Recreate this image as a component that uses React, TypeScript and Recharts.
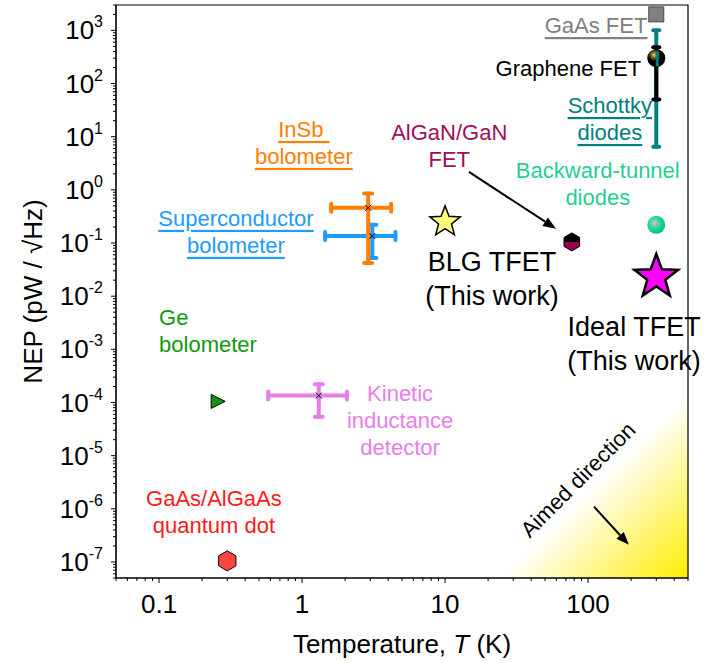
import React from "react";
import {
  ScatterChart,
  Scatter,
  XAxis,
  YAxis,
  ErrorBar,
  ReferenceArea,
  ReferenceLine,
  ReferenceDot,
} from "recharts";

const FONT = "'Liberation Sans', Arial, sans-serif";

// axis setup
const T_DOMAIN = [0.05, 500];
const NEP_DOMAIN = [5e-8, 3000];
const T_DECADES = [0.01, 0.1, 1, 10, 100];
const NEP_DECADES = [1e-8, 1e-7, 1e-6, 1e-5, 1e-4, 1e-3, 1e-2, 1e-1, 1, 10, 100, 1000];
const MINOR_STEPS = [1, 2, 3, 4, 5, 6, 7, 8, 9];

const logTicks = (decades: number[], [lo, hi]: number[]) =>
  decades
    .flatMap((d) => MINOR_STEPS.map((m) => +(m * d).toPrecision(6)))
    .filter((v) => v >= lo * 0.999 && v <= hi * 1.001);

const T_TICKS = logTicks(T_DECADES, T_DOMAIN);
const NEP_TICKS = logTicks(NEP_DECADES, NEP_DOMAIN);

// devices: temperature (K), NEP (pW/sqrt(Hz)), ranges where the paper shows bars
const gaasFet = [{ t: 300, nep: 2000 }];
const schottky = [{ t: 300, nep: 80, nepRange: [6.5, 1000] }];
const grapheneFet = [{ t: 300, nep: 300, nepRange: [50, 480] }];
const backwardTunnel = [{ t: 300, nep: 0.22 }];
const idealTfet = [{ t: 300, nep: 0.023 }];
const alganFet = [{ t: 77, nep: 0.105 }];
const blgTfet = [{ t: 10, nep: 0.25 }];
const superconductor = [{ t: 3.1, nep: 0.135, tRange: [1.45, 4.5], nepRange: [0.052, 0.22] }];
const insb = [{ t: 2.9, nep: 0.46, tRange: [1.6, 4.2], nepRange: [0.042, 0.85] }];
const kinetic = [{ t: 1.31, nep: 1.35e-4, tRange: [0.58, 2.06], nepRange: [5.4e-5, 2.2e-4] }];
const geBolometer = [{ t: 0.255, nep: 1.05e-4 }];
const quantumDot = [{ t: 0.3, nep: 1.05e-7 }];

// annotations (data coordinates)
const notes = [
  { lines: ["GaAs FET"], color: "#808080", t: 260, nep: 1260, anchor: "end", underline: true },
  { lines: ["Graphene FET"], color: "#000", t: 235, nep: 196, anchor: "end" },
  { lines: ["Schottky", "diodes"], color: "#008080", t: 142, nep: 39.5, anchor: "middle", underline: true },
  { lines: ["InSb\u00a0", "bolometer"], color: "#ff7f00", t: 1.03, nep: 14, anchor: "middle", underline: true },
  { lines: ["AlGaN/GaN", "FET"], color: "#a0105a", t: 10.7, nep: 12.3, anchor: "middle" },
  { lines: ["Backward-tunnel", "diodes"], color: "#1fd18f", t: 117, nep: 2.37, anchor: "middle" },
  { lines: ["Superconductor", "bolometer"], color: "#1e9bff", t: 0.345, nep: 0.297, anchor: "middle", underline: true },
  { lines: ["Ge", "bolometer"], color: "#119911", t: 0.1, nep: 0.0041, anchor: "start" },
  { lines: ["Kinetic", "inductance", "detector"], color: "#e77ee8", t: 4.85, nep: 1.53e-4, anchor: "middle" },
  { lines: ["GaAs/AlGaAs", "quantum dot"], color: "#ff1a1a", t: 0.242, nep: 1.62e-6, anchor: "middle" },
  { lines: ["BLG TFET", "(This work)"], color: "#000", t: 21.3, nep: 0.0443, anchor: "middle", big: true },
  { lines: ["Ideal TFET", "(This work)"], color: "#000", t: 210, nep: 0.00266, anchor: "middle", big: true },
];

const starPath = (cx: number, cy: number, R: number, r: number) => {
  const pts: string[] = [];
  for (let i = 0; i < 10; i++) {
    const a = -Math.PI / 2 + (i * Math.PI) / 5;
    const rad = i % 2 === 0 ? R : r;
    pts.push(`${cx + rad * Math.cos(a)},${cy + rad * Math.sin(a)}`);
  }
  return pts.join(" ");
};

const hexPoints = (cx: number, cy: number, r: number) =>
  [0, 1, 2, 3, 4, 5]
    .map((i) => {
      const a = -Math.PI / 2 + (i * Math.PI) / 3;
      return `${cx + r * Math.cos(a)},${cy + r * Math.sin(a)}`;
    })
    .join(" ");

const isMajor = (v: number) => {
  const e = Math.log10(v);
  return Math.abs(e - Math.round(e)) < 1e-6;
};

function XTick(props: any) {
  const { x, y, payload } = props;
  const major = isMajor(payload.value);
  return (
    <g>
      <line x1={x} x2={x} y1={y} y2={y + (major ? 5 : 3)} stroke="#000" />
      {major && (
        <text x={x} y={y + 35} textAnchor="middle" fontFamily={FONT} fontSize={26} fill="#000">
          {String(payload.value)}
        </text>
      )}
    </g>
  );
}

function YTick(props: any) {
  const { x, y, payload } = props;
  const major = isMajor(payload.value);
  const exp = Math.round(Math.log10(payload.value));
  return (
    <g>
      <line x1={x - (major ? 5 : 3)} x2={x} y1={y} y2={y} stroke="#000" />
      {major && (
        <text x={x - 13} y={y + 9} textAnchor="end" fontFamily={FONT} fontSize={26} fill="#000">
          10
          <tspan dy={-12} fontSize={16}>
            {exp}
          </tspan>
        </text>
      )}
    </g>
  );
}

function Note({ cx, cy, note }: any) {
  const size = note.big ? 27 : 22;
  const gap = note.big ? 34 : 27;
  return (
    <text
      x={cx}
      y={cy}
      fill={note.color}
      fontFamily={FONT}
      fontSize={size}
      textAnchor={note.anchor}
      dominantBaseline="central"
      style={note.underline ? { textDecoration: "underline" } : undefined}
    >
      {note.lines.map((l: string, i: number) => (
        <tspan key={i} x={cx} dy={i === 0 ? 0 : gap}>
          {l}
        </tspan>
      ))}
    </text>
  );
}

function Arrow({ x1, y1, x2, y2, width = 2 }: any) {
  const a = Math.atan2(y2 - y1, x2 - x1);
  const L = 13;
  const W = 5;
  const bx = x2 - L * Math.cos(a);
  const by = y2 - L * Math.sin(a);
  const px = -Math.sin(a) * W;
  const py = Math.cos(a) * W;
  return (
    <g>
      <line x1={x1} y1={y1} x2={bx} y2={by} stroke="#000" strokeWidth={width} />
      <polygon points={`${x2},${y2} ${bx + px},${by + py} ${bx - px},${by - py}`} fill="#000" />
    </g>
  );
}

const cross = (cx: number, cy: number) => (
  <g stroke="#000" strokeWidth={1}>
    <line x1={cx - 3} y1={cy - 3} x2={cx + 3} y2={cy + 3} />
    <line x1={cx - 3} y1={cy + 3} x2={cx + 3} y2={cy - 3} />
  </g>
);

const tErr = (d: any) => [d.t - d.tRange[0], d.tRange[1] - d.t];
const nepErr = (d: any) => [d.nep - d.nepRange[0], d.nepRange[1] - d.nep];

export default function App() {
  return (
    <div style={{ position: "absolute", left: 0, top: 0, background: "#fff" }}>
      <ScatterChart width={704} height={663} margin={{ top: 5, right: 16, bottom: 0, left: 0 }}>
        <defs>
          <linearGradient id="aimGrad" x1="0.5" y1="0.5" x2="1" y2="1">
            <stop offset="0" stopColor="#ffffff" />
            <stop offset="1" stopColor="#ffec00" />
          </linearGradient>
          <radialGradient id="grapheneBall" cx="0.38" cy="0.32" r="0.6">
            <stop offset="0" stopColor="#e6d58a" />
            <stop offset="0.3" stopColor="#6a5a20" />
            <stop offset="0.6" stopColor="#000" />
          </radialGradient>
          <radialGradient id="tunnelBall" cx="0.4" cy="0.4" r="0.6">
            <stop offset="0" stopColor="#eab8c6" />
            <stop offset="0.45" stopColor="#34d89a" />
            <stop offset="1" stopColor="#00c07c" />
          </radialGradient>
        </defs>
        <XAxis
          dataKey="t"
          type="number"
          scale="log"
          domain={T_DOMAIN}
          allowDataOverflow
          ticks={T_TICKS}
          interval={0}
          tickSize={0}
          tickMargin={0}
          tickLine={false}
          tick={<XTick />}
          height={85}
          stroke="#000"
          label={{
            content: (p: any) => {
              const vb = p.viewBox;
              return (
                <text x={vb.x + vb.width / 2} y={vb.y + 75} textAnchor="middle" fontFamily={FONT} fontSize={26} fill="#000">
                  Temperature, <tspan fontStyle="italic">T</tspan> (K)
                </text>
              );
            },
          }}
        />
        <YAxis
          dataKey="nep"
          type="number"
          scale="log"
          domain={NEP_DOMAIN}
          allowDataOverflow
          ticks={NEP_TICKS}
          interval={0}
          tickSize={0}
          tickMargin={0}
          tickLine={false}
          tick={<YTick />}
          width={116}
          stroke="#000"
          label={{
            content: (p: any) => {
              const vb = p.viewBox;
              const cy = vb.y + vb.height / 2;
              return (
                <text
                  x={33}
                  y={cy}
                  transform={`rotate(-90 33 ${cy})`}
                  textAnchor="middle"
                  dominantBaseline="central"
                  fontFamily={FONT}
                  fontSize={26}
                  fill="#000"
                >
                  NEP (pW / √Hz)
                </text>
              );
            },
          }}
        />

        <ReferenceArea
          x1={24}
          x2={500}
          y1={5e-8}
          y2={1.53e-4}
          ifOverflow="visible"
          shape={(p: any) => (
            <polygon
              points={`${p.x},${p.y + p.height} ${p.x + p.width},${p.y} ${p.x + p.width},${p.y + p.height}`}
              fill="url(#aimGrad)"
            />
          )}
        />
        <ReferenceArea
          x1={T_DOMAIN[0]}
          x2={T_DOMAIN[1]}
          y1={NEP_DOMAIN[0]}
          y2={NEP_DOMAIN[1]}
          ifOverflow="visible"
          fill="none"
          stroke="#000"
          strokeWidth={1.2}
        />

        <Scatter data={superconductor} isAnimationActive={false} shape={(p: any) => cross(p.cx, p.cy)}>
          <ErrorBar dataKey={tErr} direction="x" width={4} stroke="#1e9bff" strokeWidth={4} strokeLinecap="round" />
          <ErrorBar dataKey={nepErr} direction="y" width={4} stroke="#1e9bff" strokeWidth={4} strokeLinecap="round" />
        </Scatter>
        <Scatter data={insb} isAnimationActive={false} shape={(p: any) => cross(p.cx, p.cy)}>
          <ErrorBar dataKey={tErr} direction="x" width={4} stroke="#ff7f00" strokeWidth={4} strokeLinecap="round" />
          <ErrorBar dataKey={nepErr} direction="y" width={4} stroke="#ff7f00" strokeWidth={4} strokeLinecap="round" />
        </Scatter>
        <Scatter data={kinetic} isAnimationActive={false} shape={(p: any) => cross(p.cx, p.cy)}>
          <ErrorBar dataKey={tErr} direction="x" width={4} stroke="#e77ee8" strokeWidth={4} strokeLinecap="round" />
          <ErrorBar dataKey={nepErr} direction="y" width={4} stroke="#e77ee8" strokeWidth={4} strokeLinecap="round" />
        </Scatter>

        <Scatter data={schottky} isAnimationActive={false} shape={() => <g />}>
          <ErrorBar dataKey={nepErr} direction="y" width={3} stroke="#008080" strokeWidth={4} strokeLinecap="round" />
        </Scatter>
        <Scatter data={grapheneFet} isAnimationActive={false} shape={(p: any) => (
          <g>
            <circle cx={p.cx} cy={p.cy} r={9} fill="url(#grapheneBall)" />
            <line x1={p.cx + 1} x2={p.cx + 1} y1={p.cy - 7} y2={p.cy + 8} stroke="#008080" strokeWidth={3} />
          </g>
        )}>
          <ErrorBar dataKey={nepErr} direction="y" width={3} stroke="#000" strokeWidth={4} strokeLinecap="round" />
        </Scatter>
        <Scatter data={gaasFet} isAnimationActive={false} shape={(p: any) => (
          <rect x={p.cx - 7.5} y={p.cy - 7.5} width={15} height={15} fill="#808080" stroke="#4a4a4a" strokeWidth={1} />
        )} />
        <Scatter data={backwardTunnel} isAnimationActive={false} shape={(p: any) => (
          <circle cx={p.cx} cy={p.cy} r={9} fill="url(#tunnelBall)" />
        )} />
        <Scatter data={idealTfet} isAnimationActive={false} shape={(p: any) => (
          <polygon points={starPath(p.cx, p.cy, 23, 9.5)} fill="#ff00ff" stroke="#000" strokeWidth={2.5} strokeLinejoin="miter" />
        )} />
        <Scatter data={blgTfet} isAnimationActive={false} shape={(p: any) => (
          <polygon points={starPath(p.cx, p.cy, 16, 6.8)} fill="#ffff7a" stroke="#000" strokeWidth={1.5} />
        )} />
        <Scatter data={alganFet} isAnimationActive={false} shape={(p: any) => (
          <g>
            <polygon
              points={`${p.cx - 7.8},${p.cy} ${p.cx - 7.8},${p.cy - 4.5} ${p.cx},${p.cy - 9} ${p.cx + 7.8},${p.cy - 4.5} ${p.cx + 7.8},${p.cy}`}
              fill="#000"
            />
            <polygon
              points={`${p.cx - 7.8},${p.cy} ${p.cx - 7.8},${p.cy + 4.5} ${p.cx},${p.cy + 9} ${p.cx + 7.8},${p.cy + 4.5} ${p.cx + 7.8},${p.cy}`}
              fill="#99004f"
            />
            <polygon points={hexPoints(p.cx, p.cy, 9)} fill="none" stroke="#000" strokeWidth={1} />
          </g>
        )} />
        <Scatter data={geBolometer} isAnimationActive={false} shape={(p: any) => (
          <polygon
            points={`${p.cx - 6},${p.cy - 7} ${p.cx + 8},${p.cy} ${p.cx - 6},${p.cy + 7}`}
            fill="#139313"
            stroke="#000"
            strokeWidth={1}
          />
        )} />
        <Scatter data={quantumDot} isAnimationActive={false} shape={(p: any) => (
          <polygon points={hexPoints(p.cx, p.cy, 10)} fill="#ff4444" stroke="#000" strokeWidth={1} />
        )} />

        <ReferenceLine
          segment={[{ x: 14.7, y: 2.18 }, { x: 59.7, y: 0.185 }]}
          ifOverflow="visible"
          shape={(p: any) => <Arrow {...p} width={2} />}
        />
        <ReferenceLine
          segment={[{ x: 110, y: 1.1e-6 }, { x: 193, y: 2.1e-7 }]}
          ifOverflow="visible"
          shape={(p: any) => <Arrow {...p} width={2} />}
        />
        <ReferenceDot
          x={85}
          y={3.53e-6}
          r={0}
          ifOverflow="visible"
          shape={(p: any) => (
            <text
              x={p.cx}
              y={p.cy}
              transform={`rotate(-45 ${p.cx} ${p.cy})`}
              textAnchor="middle"
              dominantBaseline="central"
              fontFamily={FONT}
              fontSize={22}
              fill="#000"
            >
              Aimed direction
            </text>
          )}
        />
        {notes.map((n, i) => (
          <ReferenceDot
            key={i}
            x={n.t}
            y={n.nep}
            r={0}
            ifOverflow="visible"
            shape={(p: any) => <Note cx={p.cx} cy={p.cy} note={n} />}
          />
        ))}
      </ScatterChart>
    </div>
  );
}
